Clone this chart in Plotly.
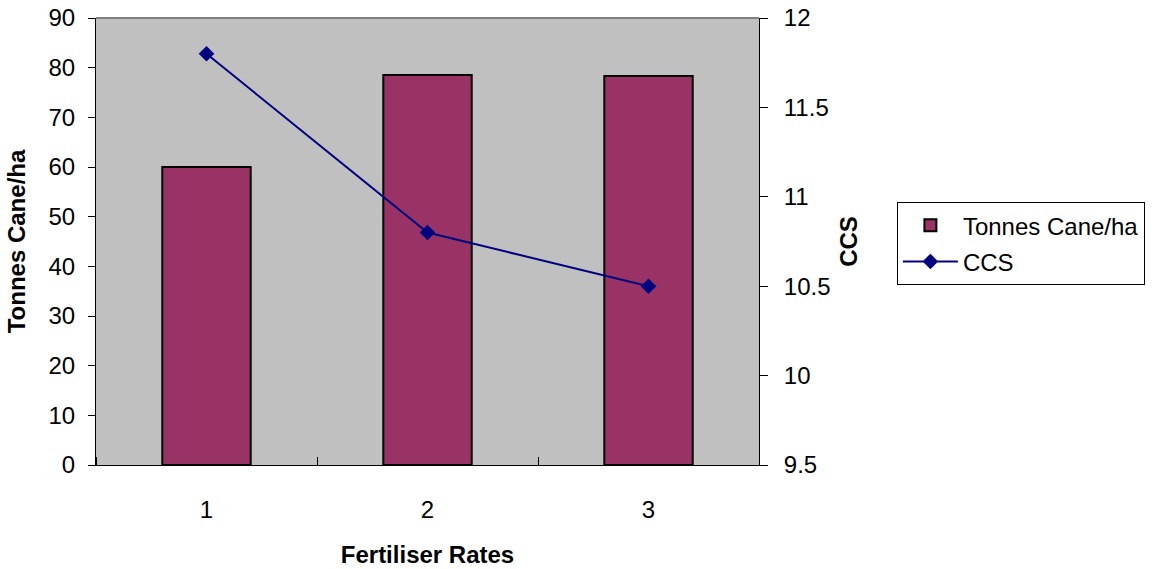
import plotly.graph_objects as go

categories = [1, 2, 3]
tonnes = [60, 78.5, 78.3]
ccs = [11.8, 10.8, 10.5]

fig = go.Figure()
fig.add_trace(go.Bar(
    x=categories, y=tonnes, name="Tonnes Cane/ha", legendgroup="a",
    marker=dict(color="#993366", line=dict(color="black", width=2)),
    width=0.4, yaxis="y",
))
fig.add_trace(go.Scatter(
    x=categories, y=ccs, name="CCS", mode="lines+markers", legendgroup="b",
    line=dict(color="#000080", width=2),
    marker=dict(symbol="diamond", size=12, color="#000080"),
    yaxis="y2",
))

FS = 24
font = dict(family="Liberation Sans, Arial, sans-serif", size=FS, color="black")
fig.update_layout(
    width=1160, height=569,
    margin=dict(l=96, r=401, t=18, b=104),
    paper_bgcolor="white", plot_bgcolor="#C0C0C0",
    font=font,
    showlegend=True,
    legend=dict(x=1.208, y=0.588, xanchor="left", yanchor="top",
                bordercolor="black", borderwidth=1, bgcolor="white",
                font=dict(size=FS), tracegroupgap=2, itemwidth=55),
    xaxis=dict(range=[0.5, 3.5], tickvals=categories, ticktext=[str(c) for c in categories],
               ticks="", showline=True, linecolor="black", linewidth=1, automargin=False,
               showgrid=False, zeroline=False, ticklabelstandoff=23,
               minor=dict(ticks="inside", tick0=0.5, dtick=1, ticklen=8, tickcolor="black", showgrid=False),
               title=dict(text="<b>Fertiliser Rates</b>", standoff=24, font=dict(size=FS))),
    yaxis=dict(range=[0, 90], dtick=10, ticks="outside", ticklen=7, tickcolor="black",
               showline=True, linecolor="black", linewidth=1, showgrid=False, zeroline=False,
               ticklabelstandoff=8, automargin=False,
               title=dict(text="<b>Tonnes Cane/ha</b>", standoff=16, font=dict(size=FS))),
    yaxis2=dict(range=[9.5, 12], dtick=0.5, overlaying="y", side="right",
                ticks="outside", ticklen=8, tickcolor="black",
                showline=True, linecolor="black", linewidth=1, showgrid=False, zeroline=False,
                ticklabelstandoff=11, automargin=False,
                title=dict(text="<b>CCS</b>", standoff=10, font=dict(size=FS))),
    shapes=[dict(type="line", xref="paper", yref="paper", x0=0, x1=1, y0=1, y1=1,
                 line=dict(color="#808080", width=2))],
)

fig.write_html("out.html")
